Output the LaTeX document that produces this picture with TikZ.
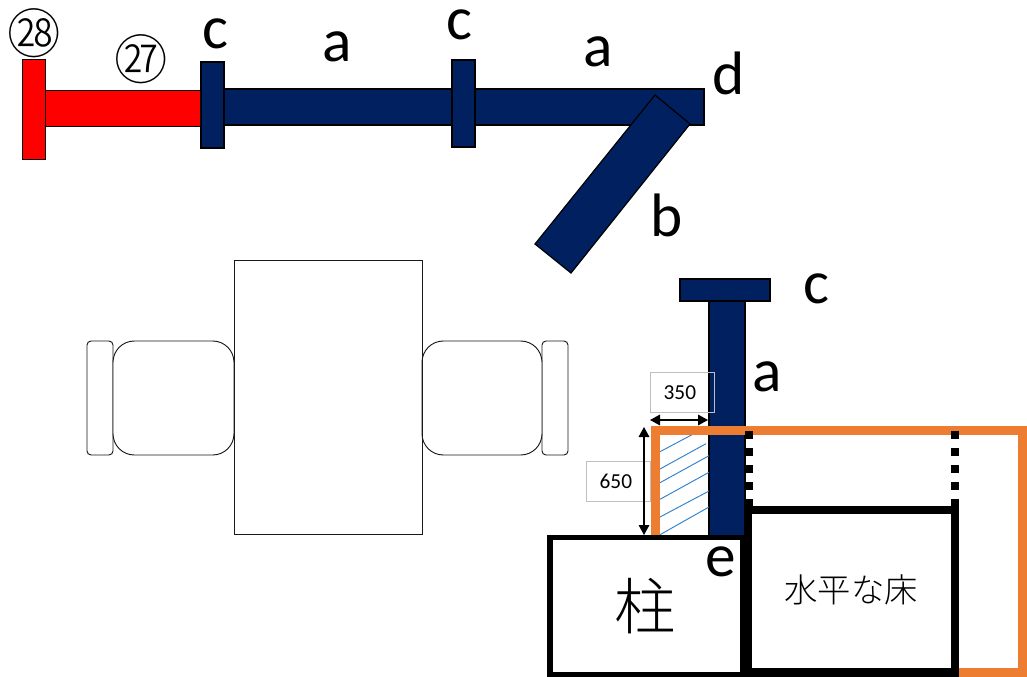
\documentclass[tikz,border=0pt]{standalone}
\usepackage{fontspec}
\setmainfont{Carlito}
\newfontfamily\cjk{Noto Sans CJK JP Light}
\usetikzlibrary{arrows.meta}
\definecolor{navy}{RGB}{0,32,96}
\definecolor{orangeb}{RGB}{237,125,49}
\definecolor{hatchb}{RGB}{46,130,205}
\tikzset{
  bar/.style={draw=black,line width=0.9pt,fill=navy},
  redbar/.style={draw=black,line width=0.6pt,fill=red},
  furn/.style={draw=black!90,line width=0.7pt,fill=white},
  letter/.style={font=\fontsize{46}{46}\selectfont,text=black,inner sep=0pt},
  dim/.style={draw=black!25,line width=0.8pt,font=\fontsize{16}{16}\selectfont,inner sep=0pt},
  dimarrow/.style={draw=black,line width=0.9pt,{Triangle[length=7.5pt,width=8pt]}-{Triangle[length=7.5pt,width=8pt]}},
  hatchline/.style={draw=hatchb,line width=0.7pt},
  dots/.style={draw=black,line width=6pt,dash pattern=on 6.3pt off 6.45pt},
  circled/.style={font=\cjk\fontsize{40}{40}\selectfont,inner sep=0pt},
}
\begin{document}
\begin{tikzpicture}[x=0.75pt,y=-0.75pt]
\useasboundingbox (0,0) rectangle (1027,677);
\fill[white] (0,0) rectangle (1027,677);
% top assembly
\draw[redbar] (45,90) rectangle (201,126);
\draw[redbar] (22,59) rectangle (45,159);
\draw[bar] (224,89) rectangle (704,125);
\draw[bar] (201,62) rectangle (224,148);
\draw[bar] (452,60) rectangle (475,147);
\draw[bar] (655,95) -- (690,124) -- (571,273) -- (535,244) -- cycle;
% furniture
\draw[furn,rounded corners=3pt] (87,341) rectangle (113,455);
\draw[furn,rounded corners=16pt] (113,341) rectangle (234,455);
\draw[furn,rounded corners=3pt] (542,341) rectangle (568,455);
\draw[furn,rounded corners=16pt] (422,341) rectangle (542,455);
\draw[furn,fill=none] (234,260) rectangle (422,534);
% post
\draw[bar] (709,301) rectangle (745,536);
\draw[bar] (680,279) rectangle (770,301);
% hatching
\coordinate (h1a) at (660,451.7); \coordinate (h1b) at (692,434.7);
\coordinate (h2a) at (660,469);   \coordinate (h2b) at (706,443.7);
\coordinate (h3a) at (660,482.7); \coordinate (h3b) at (709,455.7);
\coordinate (h4a) at (660,499.3); \coordinate (h4b) at (709,472.3);
\coordinate (h5a) at (660,517);   \coordinate (h5b) at (709,491);
\coordinate (h6a) at (660,534.7); \coordinate (h6b) at (709,507);
\foreach \i in {1,...,6}{\draw[hatchline] (h\i a) -- (h\i b);}
% orange frame
\draw[draw=orangeb,line width=6.75pt] (655.5,430.5) rectangle (1022.5,672.5);
% floor and pillar
\draw[draw=black,line width=4.3pt,fill=white] (550,537.5) rectangle (743,675);
\draw[draw=black,line width=6.2pt,fill=white] (748,510) rectangle (955,672.5);
\coordinate (d1a) at (749,431); \coordinate (d1b) at (749,510);
\coordinate (d2a) at (955,431); \coordinate (d2b) at (955,510);
\draw[dots] (d1a) -- (d1b);
\draw[dots] (d2a) -- (d2b);
% dimensions
\node[dim,minimum width=48pt,minimum height=30pt] (d350) at (682.5,392.5) {\kern-4pt 350};
\node[dim,minimum width=48pt,minimum height=30pt] (d650) at (618.5,481.5) {\kern-4pt 650};
\coordinate (a1) at (650,420); \coordinate (a2) at (708,420);
\coordinate (b1) at (644,427); \coordinate (b2) at (644,535);
\draw[dimarrow] (a1) -- (a2);
\draw[dimarrow] (b1) -- (b2);
% labels
\node[circled] (n28) at (34,33) {㉘};
\node[circled] (n27) at (141,59) {㉗};
\node[letter] (c1) at (215,34) {c};
\node[letter] (a3) at (337,47) {a};
\node[letter] (c2) at (459,25) {c};
\node[letter] (a4) at (598,52) {a};
\node[letter] (dl) at (729,73) {d};
\node[letter] (bl) at (667,215) {b};
\node[letter] (c3) at (816,289) {c};
\node[letter] (a5) at (767,377) {a};
\node[letter] (el) at (721,562) {e};
\node[font=\cjk\fontsize{46}{46}\selectfont,inner sep=0pt] (pillar) at (645,606) {柱};
\node[font=\cjk\fontsize{25}{25}\selectfont,inner sep=0pt] (floor) at (851,590) {水平な床};
\end{tikzpicture}
\end{document}
